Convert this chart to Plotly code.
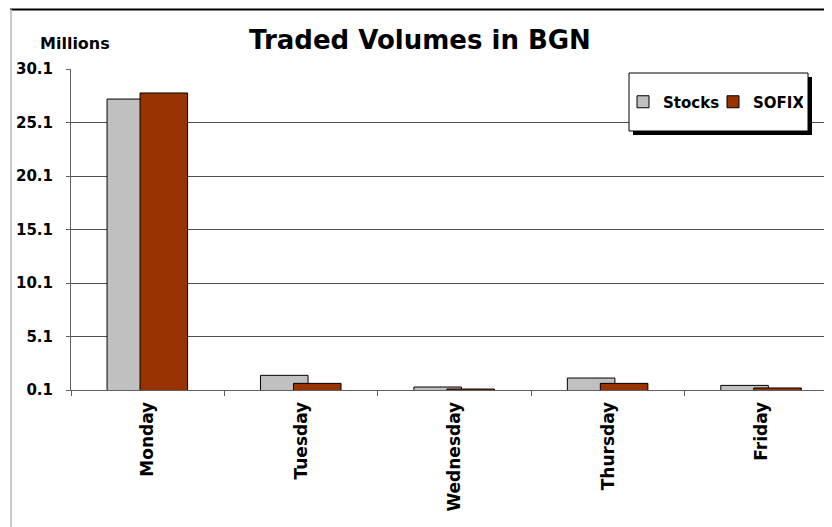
import plotly.graph_objects as go

days = ["Monday", "Tuesday", "Wednesday", "Thursday", "Friday"]
stocks = [27.29, 1.47, 0.38, 1.22, 0.53]
sofix = [27.86, 0.72, 0.19, 0.72, 0.29]
ytick_vals = [0.1, 5.1, 10.1, 15.1, 20.1, 25.1, 30.1]
ytick_text = ["0.1", "5.1", "10.1", "15.1", "20.1", "25.1", "30.1"]

FONT = "DejaVu Sans"
OFF = 8  # page body margin
W, H = 832 - OFF, 527 - OFF
L, R, T, B = 71 - OFF, 0, 69 - OFF, 137
pw, ph = W - L - R, H - T - B

def px(x):
    return (x - OFF - L) / pw

def py(y):
    return (H - B - (y - OFF)) / ph

fig = go.Figure()
fig.add_trace(go.Bar(
    x=days, y=stocks, name="Stocks", width=0.31, offset=-0.265,
    marker=dict(color="#C0C0C0", line=dict(color="#000000", width=1)),
))
fig.add_trace(go.Bar(
    x=days, y=sofix, name="SOFIX", width=0.31, offset=-0.05,
    marker=dict(color="#993300", line=dict(color="#000000", width=1)),
))

shapes = [
    dict(type="rect", xref="paper", yref="paper", x0=px(633), x1=px(812), y0=py(135), y1=py(77),
         fillcolor="#000000", line=dict(width=0), layer="above"),
    dict(type="rect", xref="paper", yref="paper", x0=px(629), x1=px(808), y0=py(131), y1=py(73),
         fillcolor="#FFFFFF", line=dict(color="#000000", width=1), layer="above"),
    dict(type="line", xref="paper", yref="paper", x0=px(10), x1=px(832), y0=py(9.5), y1=py(9.5),
         line=dict(color="#000000", width=2)),
    dict(type="line", xref="paper", yref="paper", x0=px(11), x1=px(11), y0=py(9.5), y1=py(527),
         line=dict(color="#C8C8C8", width=2)),
]

fig.update_layout(
    width=W, height=H,
    margin=dict(l=L, r=R, t=T, b=B, autoexpand=False),
    paper_bgcolor="white", plot_bgcolor="white",
    barmode="overlay",
    font=dict(family=FONT, color="#000000"),
    title=dict(text="<b>Traded Volumes in BGN</b>", x=px(420), xref="paper", xanchor="center",
               y=1 - (40 - OFF) / H, yref="container", yanchor="middle",
               font=dict(family=FONT, size=26, color="#000000")),
    showlegend=True,
    legend=dict(orientation="h", x=px(623), xanchor="left", y=py(102), yanchor="middle",
                bgcolor="rgba(0,0,0,0)", borderwidth=0, itemwidth=30,
                entrywidth=45, entrywidthmode="pixels",
                font=dict(family=FONT, size=15, color="#000000", weight="bold")),
    shapes=shapes,
    annotations=[dict(text="<b>Millions</b>", xref="paper", yref="paper", x=px(75), y=py(43),
                      xanchor="center", yanchor="middle", showarrow=False,
                      font=dict(family=FONT, size=16, color="#000000"))],
    xaxis=dict(range=[-0.5, 4.46], tickson="boundaries", ticks="outside", ticklen=5,
               tickcolor="#606060", showline=True, linecolor="#606060", linewidth=1,
               tickangle=-90, showgrid=False, zeroline=False, ticklabelstandoff=4,
               tickfont=dict(family=FONT, size=17, color="#000000", weight="bold")),
    yaxis=dict(range=[0.1, 30.1], tickvals=ytick_vals, ticktext=ytick_text,
               ticks="outside", ticklen=4, tickcolor="#606060",
               showline=True, linecolor="#606060", linewidth=1,
               showgrid=True, gridcolor="#505050", gridwidth=1, zeroline=False,
               ticklabelstandoff=10,
               tickfont=dict(family=FONT, size=15, color="#000000", weight="bold")),
)

fig.write_html("out.html")
